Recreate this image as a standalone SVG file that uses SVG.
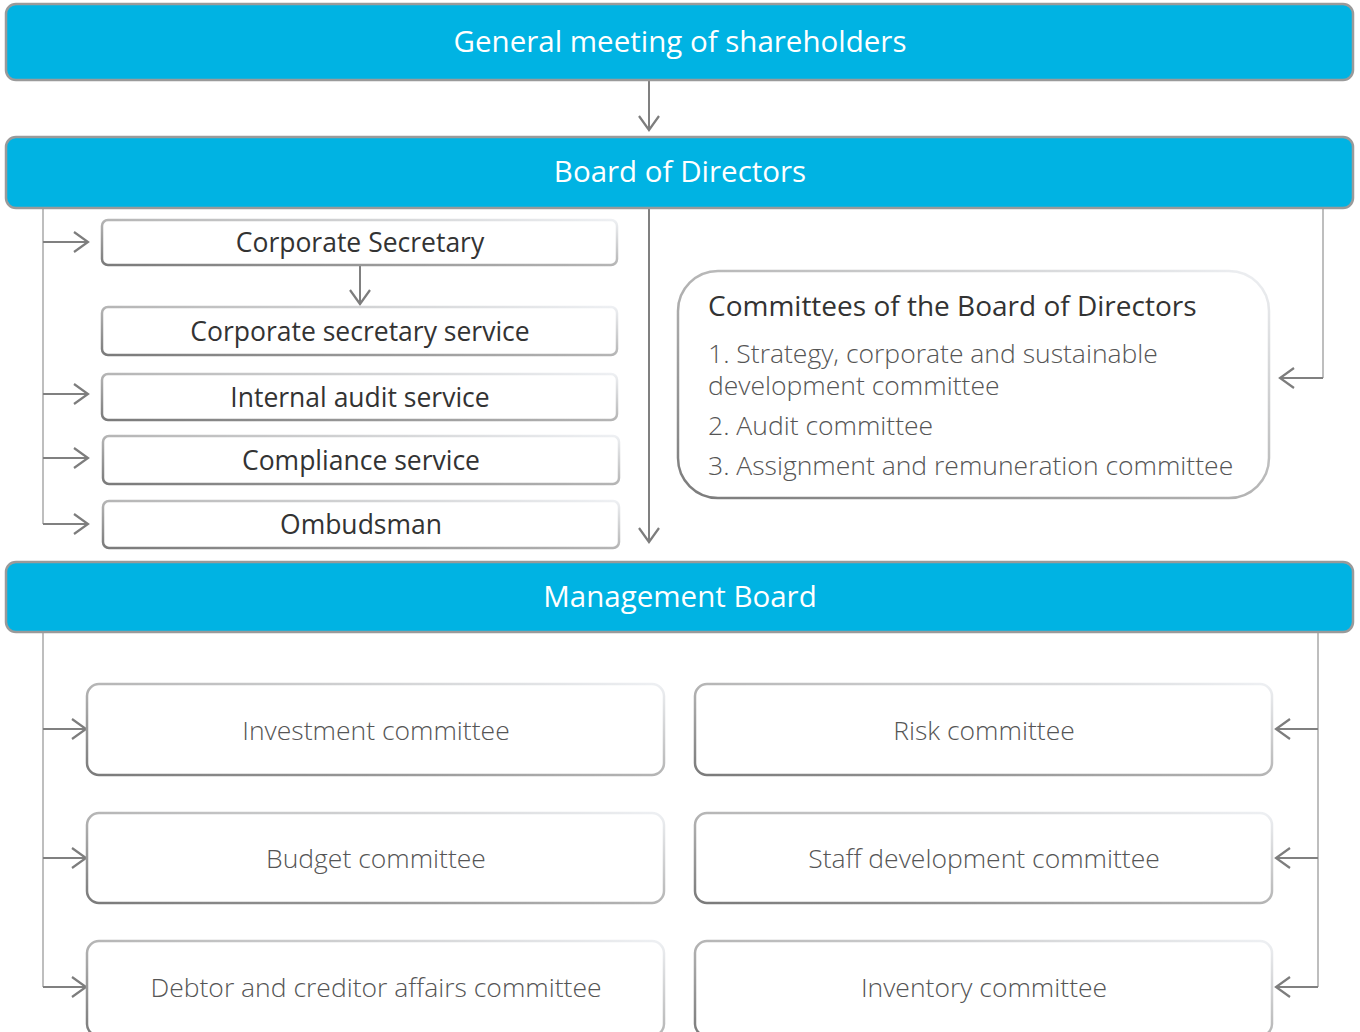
<svg xmlns="http://www.w3.org/2000/svg" width="1360" height="1032" viewBox="0 0 1360 1032">
<defs>
<linearGradient id="bord" x1="0" y1="1" x2="1" y2="0">
<stop offset="0" stop-color="#7a7a7a"/>
<stop offset="0.5" stop-color="#b5b5b5"/>
<stop offset="1" stop-color="#eef0f3"/>
</linearGradient>
<marker id="ah" viewBox="0 0 20 24" refX="18" refY="12" markerWidth="20" markerHeight="24" markerUnits="userSpaceOnUse" orient="auto">
<path d="M4 2 L18 12 L4 22" fill="none" stroke="#7d7d7d" stroke-width="2.2"/>
</marker>
</defs>
<style>
.blue{fill:#00b3e3;stroke:#9a9a9a;stroke-width:2.5}
.box{fill:#fff;stroke:url(#bord);stroke-width:2.5}
.wt{font-family:"Open Sans","Liberation Sans",sans-serif;font-size:29.5px;fill:#fff;text-anchor:middle}
.dt{font-family:"Open Sans","Liberation Sans",sans-serif;font-size:26.5px;fill:#333;text-anchor:middle}
.lt{font-family:"Open Sans","Liberation Sans",sans-serif;font-weight:300;font-size:26.5px;fill:#555;text-anchor:middle}
.ll{font-family:"Open Sans","Liberation Sans",sans-serif;font-weight:300;font-size:26.5px;fill:#555}
.conn{fill:none;stroke:#808080;stroke-width:2}
.thin{fill:none;stroke:#a8a8a8;stroke-width:1.5}
</style>
<g id="connectors">
<path class="conn" d="M649 80 V130" marker-end="url(#ah)"/>
<path class="thin" d="M43 209 V524"/>
<path class="conn" d="M43 242 H88" marker-end="url(#ah)"/>
<path class="conn" d="M43 394 H88" marker-end="url(#ah)"/>
<path class="conn" d="M43 458 H88" marker-end="url(#ah)"/>
<path class="conn" d="M43 524 H88" marker-end="url(#ah)"/>
<path class="conn" d="M360 265 V304" marker-end="url(#ah)"/>
<path class="conn" d="M649 209 V542" marker-end="url(#ah)"/>
<path class="thin" d="M1323 209 V378"/>
<path class="conn" d="M1323 378 H1280" marker-end="url(#ah)"/>
<path class="thin" d="M43 633 V987"/>
<path class="conn" d="M43 729 H86" marker-end="url(#ah)"/>
<path class="conn" d="M43 858 H86" marker-end="url(#ah)"/>
<path class="conn" d="M43 987 H86" marker-end="url(#ah)"/>
<path class="thin" d="M1318 633 V987"/>
<path class="conn" d="M1318 729 H1276" marker-end="url(#ah)"/>
<path class="conn" d="M1318 858 H1276" marker-end="url(#ah)"/>
<path class="conn" d="M1318 987 H1276" marker-end="url(#ah)"/>
</g>
<g id="gms"><rect class="blue" x="6" y="4" width="1347" height="76" rx="10"/><text class="wt" x="680" y="52">General meeting of shareholders</text></g>
<g id="bod"><rect class="blue" x="6" y="137" width="1347" height="71" rx="10"/><text class="wt" x="680" y="182">Board of Directors</text></g>
<g id="corpsec"><rect class="box" x="102" y="220" width="515" height="45" rx="6"/><text class="dt" x="360" y="252">Corporate Secretary</text></g>
<g id="corpsecsvc"><rect class="box" x="102" y="307" width="515" height="48" rx="6"/><text class="dt" x="360" y="341">Corporate secretary service</text></g>
<g id="audit"><rect class="box" x="102" y="374" width="515" height="46" rx="6"/><text class="dt" x="360" y="407">Internal audit service</text></g>
<g id="compliance"><rect class="box" x="103" y="436" width="516" height="48" rx="6"/><text class="dt" x="361" y="470">Compliance service</text></g>
<g id="ombudsman"><rect class="box" x="103" y="501" width="516" height="47" rx="6"/><text class="dt" x="361" y="534">Ombudsman</text></g>
<g id="committees"><rect class="box" x="678" y="271" width="591" height="227" rx="40"/>
<text x="708" y="316" style="font-family:'Open Sans','Liberation Sans',sans-serif;font-size:28px;fill:#333">Committees of the Board of Directors</text>
<text class="ll" x="708" y="363">1. Strategy, corporate and sustainable<tspan x="708" dy="32">development committee</tspan></text>
<text class="ll" x="708" y="435">2. Audit committee</text>
<text class="ll" x="708" y="475">3. Assignment and remuneration committee</text>
</g>
<g id="mb"><rect class="blue" x="6" y="562" width="1347" height="70" rx="10"/><text class="wt" x="680" y="607">Management Board</text></g>
<g id="invest"><rect class="box" x="87" y="684" width="577" height="91" rx="12"/><text class="lt" x="376" y="740">Investment committee</text></g>
<g id="budget"><rect class="box" x="87" y="813" width="577" height="90" rx="12"/><text class="lt" x="376" y="868">Budget committee</text></g>
<g id="debtor"><rect class="box" x="87" y="941" width="577" height="95" rx="12"/><text class="lt" x="376" y="997">Debtor and creditor affairs committee</text></g>
<g id="risk"><rect class="box" x="695" y="684" width="577" height="91" rx="12"/><text class="lt" x="984" y="740">Risk committee</text></g>
<g id="staff"><rect class="box" x="695" y="813" width="577" height="90" rx="12"/><text class="lt" x="984" y="868">Staff development committee</text></g>
<g id="inventory"><rect class="box" x="695" y="941" width="577" height="95" rx="12"/><text class="lt" x="984" y="997">Inventory committee</text></g>
</svg>
